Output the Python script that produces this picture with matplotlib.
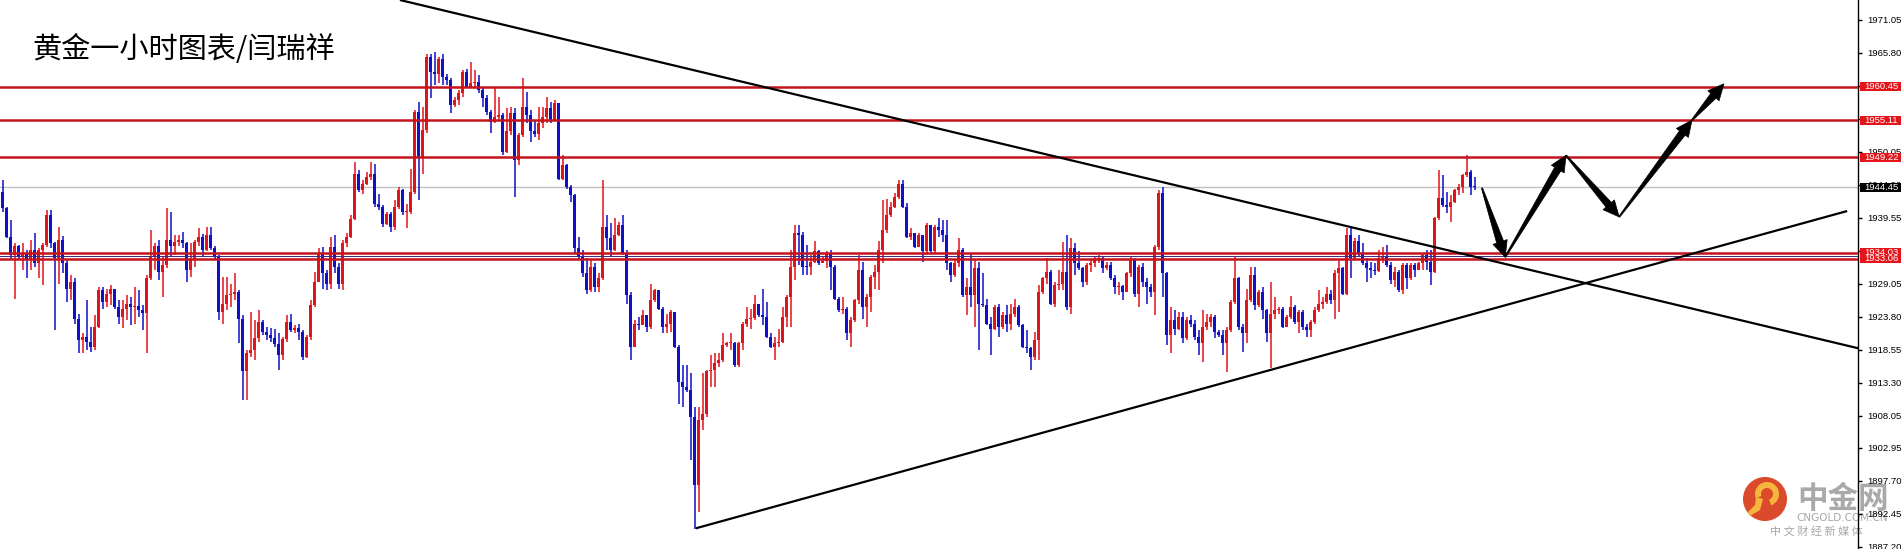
import numpy as np
import matplotlib
matplotlib.use("Agg")
from matplotlib import pyplot as plt
from matplotlib import transforms
from matplotlib.patches import Polygon, Circle, Wedge, Rectangle

plt.rcParams['font.family'] = ['Noto Sans CJK SC', 'DejaVu Sans']

# 黄金一小时K线 (开盘价 = 上一根收盘价)
first_open = 1943.7
close_px = [
    1941.1, 1936.5, 1933.6, 1935.1, 1933.4, 1934.0, 1932.8, 1934.4, 1932.3, 1934.4,
    1935.2, 1940.0, 1935.5, 1933.1, 1936.1, 1932.3, 1928.3, 1929.4, 1923.5, 1920.1,
    1920.6, 1919.8, 1919.0, 1922.2, 1928.1, 1926.2, 1927.5, 1928.3, 1925.4, 1923.8,
    1925.0, 1925.9, 1925.4, 1925.5, 1924.9, 1924.4, 1929.9, 1933.4, 1935.0, 1931.0,
    1932.0, 1936.0, 1935.0, 1935.7, 1936.0, 1935.5, 1931.2, 1932.8, 1935.7, 1936.5,
    1934.4, 1936.8, 1934.7, 1933.4, 1924.6, 1925.9, 1927.3, 1927.5, 1927.8, 1923.5,
    1915.1, 1918.0, 1918.5, 1920.4, 1923.0, 1921.4, 1920.9, 1920.4, 1919.4, 1917.7,
    1920.2, 1923.0, 1921.7, 1922.0, 1921.4, 1917.4, 1920.6, 1925.7, 1929.4, 1934.0,
    1930.7, 1929.1, 1934.9, 1931.8, 1929.1, 1935.5, 1936.5, 1939.4, 1946.6, 1944.0,
    1945.0, 1946.1, 1946.6, 1941.8, 1941.3, 1938.6, 1940.2, 1938.1, 1941.3, 1944.0,
    1940.5, 1940.5, 1943.7, 1956.4, 1949.3, 1953.5, 1965.2, 1962.8, 1962.5, 1964.9,
    1962.0, 1961.5, 1957.5, 1958.3, 1959.4, 1962.8, 1960.4, 1961.0, 1961.1, 1959.9,
    1958.6, 1956.4, 1954.8, 1955.6, 1955.9, 1950.1, 1953.3, 1956.2, 1948.7, 1952.7,
    1957.2, 1955.9, 1953.3, 1952.9, 1954.6, 1955.6, 1957.0, 1955.1, 1957.8, 1945.8,
    1948.0, 1944.5, 1943.2, 1934.7, 1933.3, 1930.7, 1928.0, 1931.8, 1928.6, 1929.9,
    1938.1, 1936.3, 1934.4, 1936.8, 1938.4, 1933.9, 1927.3, 1919.0, 1922.7, 1922.5,
    1924.1, 1922.2, 1926.5, 1928.1, 1925.1, 1922.2, 1922.7, 1924.6, 1919.0, 1913.5,
    1912.7, 1912.1, 1907.9, 1897.0, 1907.4, 1908.4, 1915.1, 1915.3, 1916.4, 1917.0,
    1919.3, 1919.6, 1919.7, 1916.1, 1919.6, 1922.7, 1923.5, 1923.6, 1925.9, 1924.1,
    1923.8, 1920.6, 1919.0, 1919.6, 1919.8, 1923.8, 1927.0, 1931.8, 1937.1, 1936.8,
    1931.8, 1931.7, 1932.6, 1934.2, 1932.3, 1932.7, 1933.9, 1931.8, 1926.7, 1924.9,
    1925.1, 1921.2, 1923.3, 1926.5, 1931.2, 1925.4, 1927.0, 1930.2, 1931.0, 1934.4,
    1937.6, 1940.0, 1941.3, 1942.9, 1945.0, 1941.3, 1936.5, 1937.1, 1934.9, 1936.8,
    1934.2, 1938.4, 1934.2, 1938.1, 1937.6, 1936.8, 1932.3, 1930.4, 1932.3, 1934.4,
    1927.3, 1928.6, 1927.3, 1931.5, 1925.9, 1925.7, 1922.7, 1921.9, 1925.4, 1922.2,
    1924.1, 1922.7, 1924.3, 1925.4, 1922.5, 1919.0, 1918.8, 1917.4, 1920.1, 1927.8,
    1929.9, 1931.0, 1925.9, 1928.9, 1929.1, 1931.0, 1925.4, 1934.7, 1932.3, 1931.5,
    1929.4, 1932.0, 1932.3, 1932.8, 1933.1, 1931.5, 1932.0, 1929.9, 1928.6, 1928.7,
    1927.8, 1930.7, 1932.8, 1927.5, 1931.8, 1929.4, 1928.6, 1927.8, 1934.9, 1943.5,
    1930.7, 1920.9, 1923.3, 1921.9, 1923.8, 1920.4, 1923.3, 1922.7, 1920.6, 1919.6,
    1922.2, 1923.0, 1923.8, 1921.4, 1920.9, 1919.6, 1921.7, 1926.2, 1929.9, 1922.2,
    1921.2, 1926.5, 1930.4, 1925.7, 1927.8, 1924.9, 1921.2, 1924.3, 1924.9, 1925.1,
    1922.2, 1923.8, 1925.4, 1923.0, 1924.6, 1922.2, 1921.7, 1923.0, 1924.9, 1925.9,
    1926.2, 1927.5, 1926.5, 1930.7, 1931.5, 1927.5, 1936.8, 1933.1, 1935.8, 1933.9,
    1932.3, 1931.5, 1931.2, 1931.1, 1933.1, 1933.4, 1932.0, 1929.6, 1931.0, 1928.1,
    1932.0, 1929.9, 1932.0, 1931.2, 1932.3, 1933.6, 1932.6, 1931.0, 1939.5, 1942.7,
    1941.6, 1941.3, 1942.1, 1944.0, 1944.5, 1946.4, 1946.9, 1944.5, 1944.45,
]
high_px = [
    1945.5, 1941.3, 1939.2, 1935.5, 1935.2, 1935.5, 1934.4, 1936.0, 1937.1, 1934.7,
    1935.5, 1940.8, 1940.8, 1935.7, 1938.1, 1936.6, 1932.8, 1930.4, 1929.9, 1924.3,
    1921.2, 1926.5, 1922.2, 1924.1, 1928.6, 1928.6, 1928.3, 1928.8, 1928.3, 1926.5,
    1926.5, 1927.3, 1927.0, 1928.6, 1928.1, 1925.7, 1930.4, 1937.6, 1935.5, 1936.0,
    1933.4, 1941.1, 1940.5, 1936.8, 1936.8, 1937.3, 1935.7, 1935.5, 1936.0, 1937.9,
    1937.0, 1938.1, 1938.1, 1935.0, 1933.6, 1930.2, 1930.2, 1929.1, 1930.7, 1928.1,
    1924.1, 1918.5, 1924.6, 1923.3, 1924.9, 1923.3, 1922.2, 1922.0, 1921.8, 1921.2,
    1920.6, 1924.1, 1924.3, 1922.5, 1922.7, 1921.7, 1920.9, 1926.5, 1931.0, 1934.7,
    1934.9, 1931.2, 1936.5, 1936.8, 1932.3, 1936.0, 1937.1, 1940.0, 1948.5, 1947.2,
    1945.6, 1946.9, 1948.5, 1948.2, 1943.4, 1941.6, 1940.5, 1940.5, 1942.4, 1944.5,
    1944.2, 1941.8, 1947.4, 1956.7, 1958.0, 1957.2, 1965.7, 1965.7, 1966.0, 1965.2,
    1965.7, 1962.5, 1961.8, 1958.8, 1959.9, 1963.1, 1963.3, 1964.4, 1963.1, 1962.3,
    1960.4, 1959.1, 1956.7, 1960.4, 1958.8, 1956.2, 1957.0, 1957.2, 1957.0, 1953.0,
    1961.8, 1959.6, 1956.7, 1955.1, 1957.2, 1957.2, 1958.8, 1958.0, 1958.3, 1957.8,
    1949.5, 1948.2, 1944.8, 1943.4, 1936.5, 1934.4, 1933.1, 1932.8, 1932.3, 1930.7,
    1945.6, 1940.0, 1938.7, 1939.5, 1938.9, 1940.0, 1934.4, 1927.8, 1923.3, 1923.8,
    1924.9, 1924.1, 1929.1, 1928.3, 1928.1, 1925.4, 1924.3, 1924.9, 1924.6, 1919.3,
    1916.1, 1916.1, 1914.8, 1909.5, 1909.5, 1914.8, 1915.3, 1917.7, 1918.0, 1918.0,
    1921.2, 1919.8, 1921.2, 1919.8, 1919.8, 1923.0, 1925.4, 1925.1, 1927.3, 1925.9,
    1928.3, 1926.2, 1921.2, 1920.6, 1921.9, 1925.4, 1927.3, 1934.4, 1938.4, 1938.4,
    1937.3, 1935.2, 1933.6, 1935.8, 1934.4, 1933.4, 1934.2, 1934.4, 1932.0, 1927.0,
    1927.0, 1925.4, 1923.8, 1926.7, 1933.6, 1932.6, 1927.5, 1930.4, 1932.0, 1935.8,
    1942.4, 1942.5, 1942.1, 1943.5, 1945.6, 1945.6, 1941.9, 1937.9, 1937.1, 1937.1,
    1936.8, 1938.7, 1938.1, 1938.4, 1939.5, 1939.2, 1939.2, 1932.6, 1932.8, 1936.3,
    1934.7, 1929.9, 1933.9, 1932.8, 1932.6, 1930.7, 1926.7, 1923.8, 1925.7, 1925.9,
    1924.6, 1925.7, 1925.9, 1926.7, 1925.7, 1922.7, 1921.7, 1919.0, 1921.4, 1928.8,
    1930.2, 1933.1, 1931.2, 1929.4, 1931.2, 1935.7, 1936.8, 1936.3, 1935.5, 1934.2,
    1931.8, 1932.3, 1932.8, 1933.4, 1933.6, 1933.4, 1932.6, 1932.6, 1930.4, 1929.4,
    1928.9, 1931.0, 1933.4, 1933.1, 1932.0, 1932.3, 1929.9, 1929.1, 1935.2, 1944.0,
    1944.5, 1931.0, 1925.4, 1924.9, 1924.6, 1924.6, 1923.8, 1924.1, 1923.3, 1921.7,
    1924.9, 1924.3, 1924.3, 1924.1, 1921.7, 1921.7, 1922.2, 1926.5, 1933.4, 1930.2,
    1922.7, 1928.3, 1931.8, 1931.8, 1928.1, 1928.6, 1925.1, 1929.4, 1927.0, 1925.4,
    1925.4, 1924.1, 1927.1, 1925.7, 1924.9, 1924.9, 1922.7, 1923.3, 1925.4, 1928.1,
    1927.0, 1928.6, 1928.1, 1931.2, 1932.8, 1931.8, 1937.9, 1937.9, 1936.3, 1936.8,
    1935.5, 1933.1, 1932.6, 1932.3, 1934.4, 1934.9, 1935.2, 1932.6, 1931.8, 1931.2,
    1932.3, 1932.3, 1932.3, 1932.3, 1932.6, 1933.9, 1934.4, 1934.4, 1939.7, 1947.2,
    1946.4, 1943.7, 1943.2, 1944.2, 1945.0, 1946.6, 1949.6, 1947.2, 1946.1,
]
low_px = [
    1940.5, 1936.4, 1932.8, 1926.7, 1932.8, 1931.2, 1929.9, 1931.2, 1931.8, 1929.9,
    1928.9, 1934.9, 1934.7, 1921.7, 1929.1, 1930.7, 1926.2, 1926.5, 1922.7, 1918.0,
    1918.0, 1918.5, 1918.2, 1918.5, 1922.0, 1925.1, 1925.4, 1925.7, 1925.1, 1922.7,
    1922.0, 1923.3, 1922.5, 1922.7, 1923.8, 1921.7, 1918.0, 1929.6, 1931.2, 1929.6,
    1927.0, 1931.5, 1933.4, 1933.6, 1935.0, 1934.7, 1929.4, 1930.2, 1931.8, 1935.0,
    1933.4, 1934.2, 1934.4, 1932.8, 1923.3, 1922.7, 1924.9, 1925.4, 1926.5, 1919.6,
    1910.5, 1910.5, 1917.4, 1916.9, 1919.8, 1920.9, 1920.1, 1919.8, 1919.0, 1915.3,
    1916.9, 1919.8, 1921.4, 1921.2, 1920.1, 1916.9, 1917.2, 1920.1, 1925.4, 1929.4,
    1928.3, 1928.0, 1928.3, 1930.7, 1928.3, 1928.0, 1934.9, 1936.3, 1939.2, 1943.7,
    1943.4, 1944.8, 1945.6, 1941.3, 1940.8, 1938.1, 1938.4, 1937.3, 1937.6, 1941.0,
    1940.0, 1937.9, 1940.2, 1943.4, 1942.4, 1946.6, 1953.0, 1958.6, 1960.7, 1961.0,
    1960.7, 1960.7, 1956.2, 1957.2, 1957.5, 1958.8, 1960.2, 1960.2, 1960.4, 1959.4,
    1957.2, 1955.9, 1953.0, 1954.6, 1955.1, 1949.5, 1949.8, 1952.7, 1942.9, 1948.0,
    1952.5, 1954.6, 1951.7, 1952.5, 1951.9, 1953.8, 1954.6, 1954.6, 1954.9, 1945.6,
    1945.6, 1944.2, 1942.1, 1933.9, 1932.8, 1930.2, 1927.5, 1927.8, 1927.8, 1927.8,
    1929.6, 1934.4, 1933.4, 1934.2, 1936.6, 1933.6, 1925.9, 1916.9, 1919.0, 1921.7,
    1922.5, 1921.4, 1921.9, 1926.2, 1924.9, 1921.2, 1921.2, 1921.4, 1918.8, 1910.0,
    1909.5, 1911.9, 1901.0, 1890.1, 1892.7, 1905.8, 1907.9, 1912.7, 1912.7, 1915.8,
    1916.6, 1919.0, 1918.5, 1915.8, 1915.8, 1918.5, 1922.2, 1921.9, 1923.3, 1923.8,
    1922.5, 1920.4, 1918.8, 1916.9, 1919.0, 1919.6, 1922.2, 1922.2, 1929.6, 1932.0,
    1930.4, 1930.4, 1930.4, 1932.3, 1932.0, 1932.3, 1931.5, 1928.1, 1926.5, 1924.6,
    1924.3, 1920.1, 1919.0, 1923.0, 1925.9, 1923.5, 1922.2, 1924.6, 1928.3, 1928.1,
    1932.3, 1937.1, 1939.7, 1941.1, 1942.6, 1941.1, 1936.3, 1936.0, 1934.7, 1934.9,
    1932.6, 1933.6, 1933.9, 1933.9, 1936.5, 1935.7, 1931.2, 1929.4, 1930.2, 1931.8,
    1927.0, 1924.1, 1925.4, 1922.2, 1918.5, 1925.4, 1922.5, 1917.7, 1921.7, 1920.6,
    1921.9, 1921.4, 1921.7, 1923.8, 1922.2, 1918.8, 1918.0, 1915.3, 1916.9, 1916.9,
    1927.5, 1929.1, 1925.7, 1925.4, 1928.1, 1928.1, 1924.9, 1924.3, 1930.4, 1931.2,
    1928.6, 1928.9, 1931.0, 1931.8, 1932.3, 1930.7, 1931.2, 1929.6, 1927.5, 1927.3,
    1926.5, 1928.1, 1930.2, 1927.0, 1925.4, 1928.6, 1925.9, 1927.0, 1924.1, 1934.4,
    1927.0, 1919.3, 1918.0, 1920.9, 1921.7, 1919.6, 1920.1, 1922.2, 1920.1, 1917.7,
    1916.6, 1921.7, 1922.2, 1920.4, 1920.6, 1917.7, 1915.0, 1921.4, 1925.9, 1921.7,
    1918.2, 1919.6, 1926.2, 1924.9, 1925.4, 1923.5, 1919.8, 1915.6, 1923.5, 1924.3,
    1922.0, 1922.1, 1923.5, 1922.7, 1921.2, 1921.7, 1920.6, 1920.6, 1922.7, 1924.6,
    1925.1, 1925.9, 1925.9, 1923.5, 1924.6, 1927.3, 1927.3, 1929.9, 1932.8, 1933.4,
    1932.0, 1929.4, 1929.9, 1930.4, 1931.0, 1932.3, 1931.8, 1929.1, 1928.6, 1927.8,
    1927.5, 1928.3, 1929.6, 1930.2, 1931.2, 1931.2, 1931.2, 1928.9, 1930.7, 1939.2,
    1941.3, 1940.3, 1938.9, 1941.9, 1943.2, 1943.5, 1946.1, 1943.2, 1944.0,
]

# 水平支撑/阻力线
level_lines = [1960.45, 1955.11, 1949.22, 1934.03, 1933.06]
bid_price = 1944.45
tick_values = [1971.05, 1965.80, 1960.55, 1955.30, 1950.05, 1944.80, 1939.55, 1934.30,
               1929.05, 1923.80, 1918.55, 1913.30, 1908.05, 1902.95, 1897.70, 1892.45, 1887.20]

# 趋势线 (K线序号, 价格)
upper_trend = [(99.3, 1974.23), (463.8, 1918.8)]
lower_trend = [(173.25, 1890.13), (461.1, 1940.64)]
# 预期走势箭头
path_idx = [369.8, 375.6, 390.8, 404.1, 422.3, 430.3]
path_price = [1944.3, 1933.3, 1949.5, 1939.7, 1955.1, 1960.9]

RED = '#e0141b'
BLUE = '#1010c8'
LINE_RED = '#c4141c'

fig = plt.figure(figsize=(19.03, 5.49), dpi=100, facecolor='white')

# 背景层: 标题和水印
bg = fig.add_axes([0, 0, 1, 1], zorder=-1)
bg.set_xlim(0, 1903)
bg.set_ylim(549, 0)
bg.axis('off')

ax = fig.add_axes([0, 0, 1858 / 1903, 1], zorder=1)
ax.patch.set_alpha(0)
ax.set_xlim(-0.675, 463.8)
ax.set_ylim(1886.84, 1974.23)

n = min(len(close_px), len(high_px), len(low_px))
closes = np.array(close_px[:n])
opens = np.r_[first_open, closes[:-1]]
highs = np.maximum(np.array(high_px[:n]), np.maximum(opens, closes))
lows = np.minimum(np.array(low_px[:n]), np.minimum(opens, closes))
idx = np.arange(n)
cols = np.where(closes >= opens, RED, BLUE)

ax.vlines(idx, lows, highs, colors=cols, lw=1.1, zorder=3)
ax.bar(idx, np.maximum(np.abs(closes - opens), 0.15), bottom=np.minimum(opens, closes),
       width=0.8, color=cols, lw=0, zorder=3)

# 水平线
ax.axhline(bid_price, color='#c0c0c0', lw=1.0, zorder=2)
for v in level_lines:
    ax.axhline(v, color=LINE_RED, lw=1.8, zorder=4)
ax.axhline((level_lines[3] + level_lines[4]) / 2, color='#3b2a80', lw=0.7, zorder=4)

# 趋势线
for seg in (upper_trend, lower_trend):
    ax.plot([seg[0][0], seg[1][0]], [seg[0][1], seg[1][1]], color='black', lw=1.6, zorder=5,
            solid_capstyle='butt')

# 坐标轴
for s in ['top', 'left', 'bottom']:
    ax.spines[s].set_visible(False)
ax.spines['right'].set_color('black')
ax.spines['right'].set_linewidth(1.0)
ax.set_xticks([])
ax.yaxis.tick_right()
ax.set_yticks(tick_values)
ax.set_yticklabels(['%.2f' % v for v in tick_values], fontsize=6.8, fontfamily='Liberation Sans')
ax.tick_params(axis='y', direction='out', length=3, width=1, pad=4, colors='black')

# 价格标签
ytrans = ax.get_yaxis_transform()
box_h = 9 / 6.282
x0, x1 = 1860 / 1858, 1901 / 1858
for v, fc in [(1960.45, '#e3141a'), (1955.11, '#e3141a'), (1949.22, '#e3141a'),
              (1934.03, '#e3141a'), (1933.06, '#e3141a'), (bid_price, 'black')]:
    ax.add_patch(Rectangle((x0, v - box_h / 2), x1 - x0, box_h, transform=ytrans,
                           fc=fc, ec='none', clip_on=False, zorder=10))
    ax.text(1864 / 1858, v, '%.2f' % v, transform=ytrans, ha='left', va='center',
            fontsize=6.8, fontfamily='Liberation Sans', color='white', clip_on=False, zorder=11)

# 箭头
pts = ax.transData.transform(np.column_stack([path_idx, path_price]))


def arrow_poly(a, b, head_len=16, head_w=7.5, w0=0.6, w1=3.6):
    d = b - a
    u = d / np.hypot(*d)
    v = np.array([-u[1], u[0]])
    bh = b - u * head_len
    return [a + v * w0, bh + v * w1, bh + v * head_w, b, bh - v * head_w, bh - v * w1, a - v * w0]


for i in range(len(pts) - 1):
    ax.add_patch(Polygon(arrow_poly(pts[i], pts[i + 1]), closed=True, fc='black', ec='black',
                         lw=0.5, transform=transforms.IdentityTransform(), zorder=6))

# 标题
bg.text(32, 50, '黄金一小时图表/闫瑞祥', fontsize=21, ha='left', va='center', color='black')

# 水印
bg.add_patch(Circle((1765, 499), 22, fc='#d8401f', ec='none', alpha=0.95))
bg.add_patch(Wedge((1767, 494), 12, 160, 430, width=6, fc='#f4b63c', ec='none'))
bg.add_patch(Polygon([(1756, 497), (1763, 499), (1760, 510), (1750, 516), (1748, 512), (1755, 505)],
                     closed=True, fc='#f4b63c', ec='none'))
bg.text(1843, 499, '中金网', fontsize=22, fontweight='bold', color='#9a9a9a', ha='center',
        va='center', alpha=0.85)
bg.text(1842, 518, 'CNGOLD.COM.CN', fontsize=7.5, color='#a8a8a8', ha='center', va='center',
        fontfamily='DejaVu Sans')
bg.text(1816, 531, '中 文 财 经 新 媒 体', fontsize=8, color='#a8a8a8', ha='center', va='center')

fig.savefig('out.png', dpi=100, facecolor='white')
